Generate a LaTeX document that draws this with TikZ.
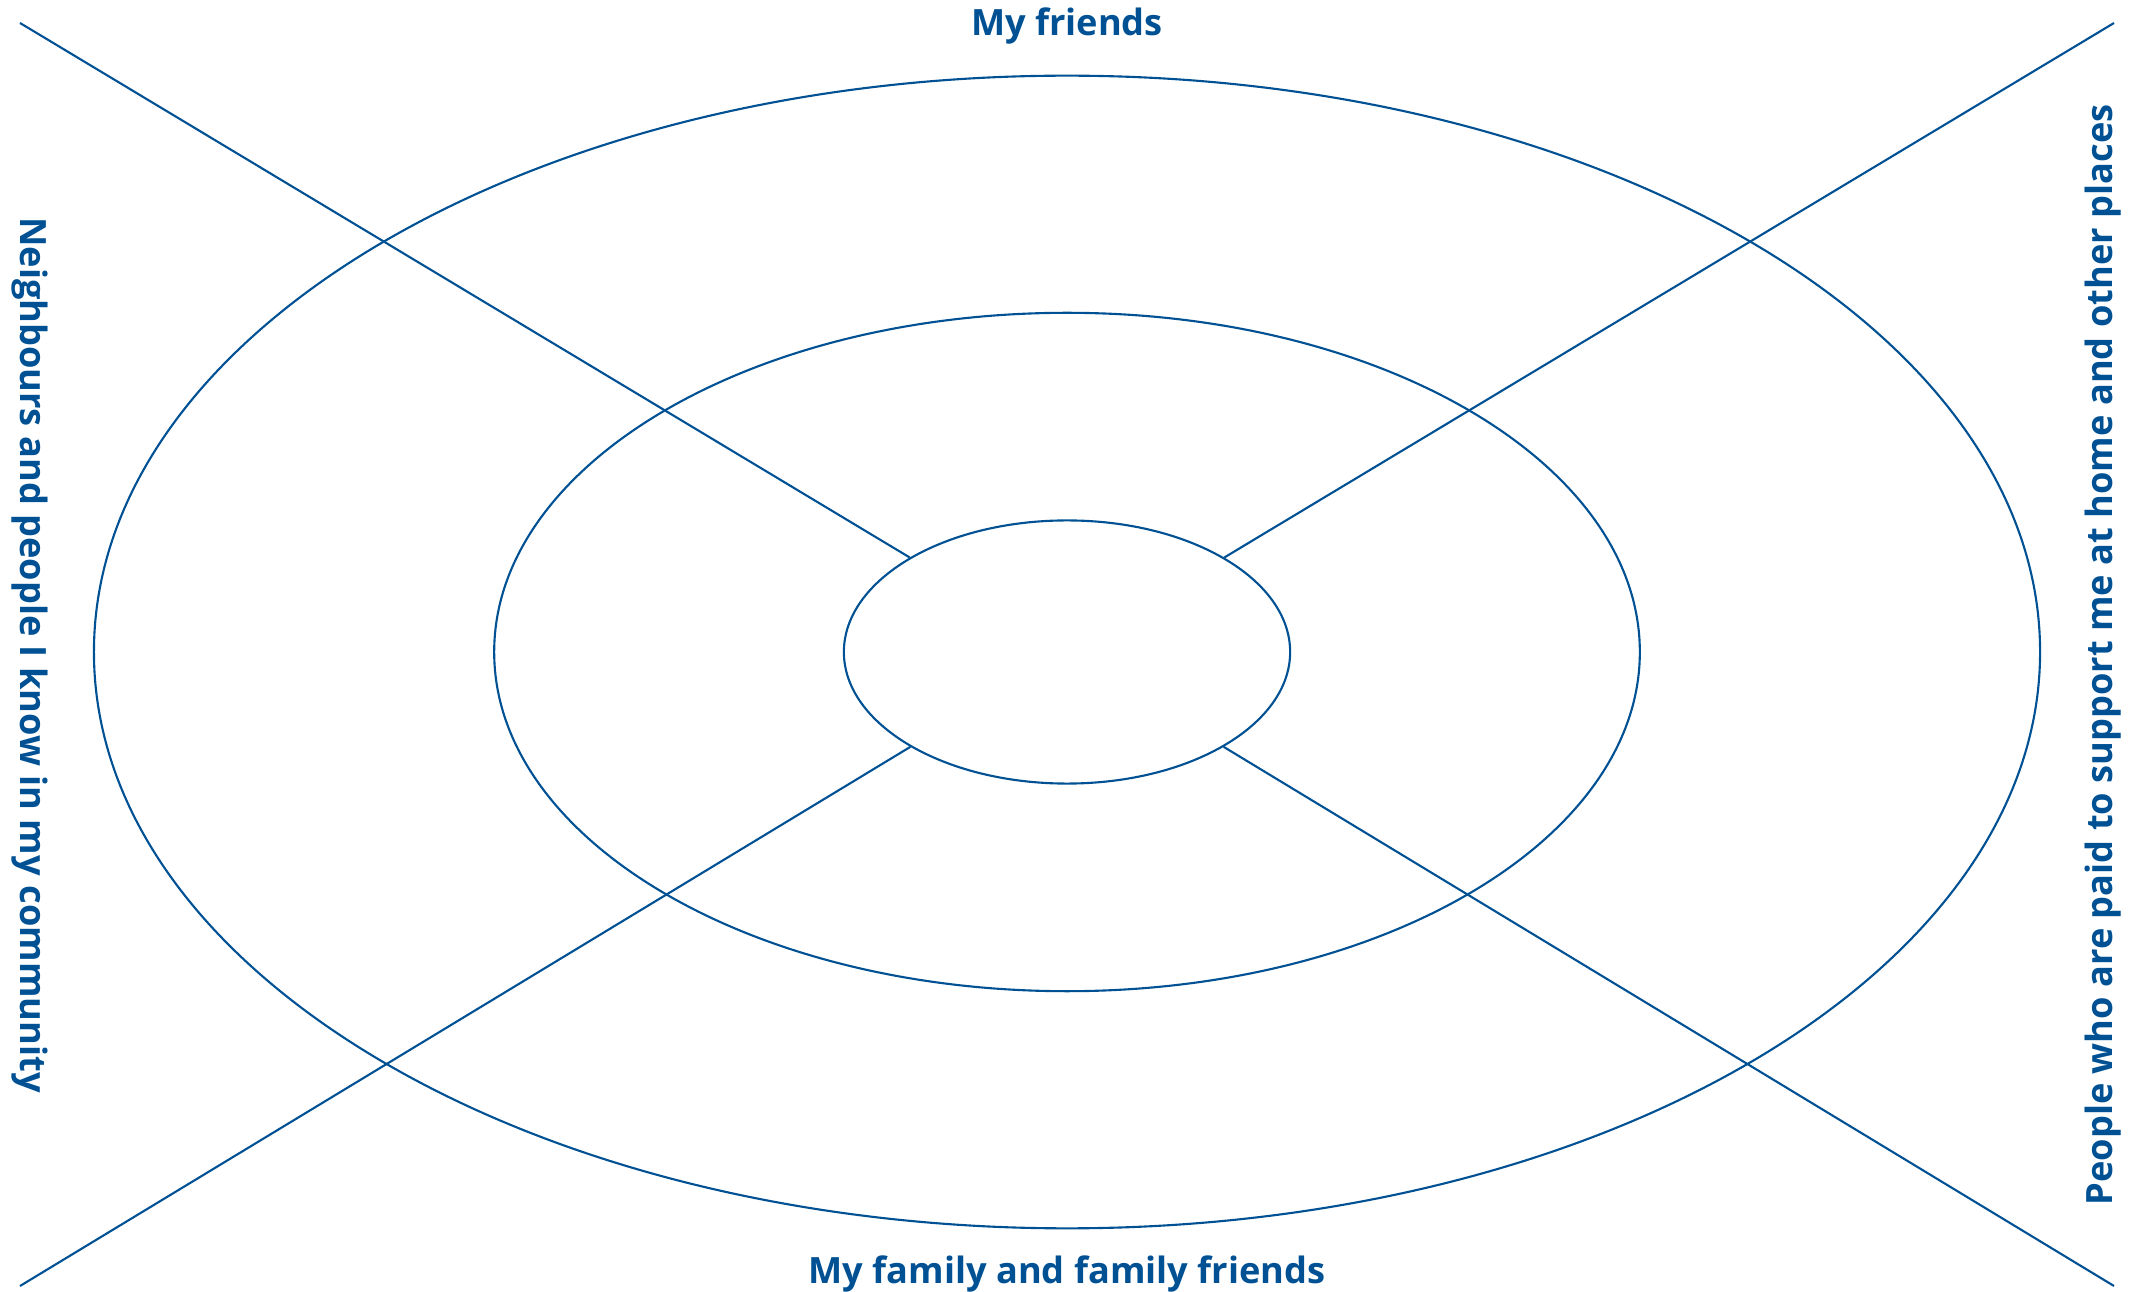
\documentclass[tikz,border=0pt]{standalone}
\usepackage{fontspec}
\setmainfont{Open Sans}
\usepackage{tikz}
\usetikzlibrary{shapes.geometric, positioning}
\definecolor{ringblue}{RGB}{0,81,148}
\tikzstyle{ring} = [ellipse, draw=ringblue, line width=0.6pt, inner sep=0pt]
\tikzstyle{spoke} = [draw=ringblue, line width=0.6pt]
\tikzstyle{ringtext} = [text=ringblue, font=\bfseries\fontsize{10.3}{12}\selectfont, inner sep=0pt]

\begin{document}
\begin{tikzpicture}[x=0.01cm, y=-0.01cm]
    \useasboundingbox (0,0) rectangle (2140,1292);
    % Rings
    \node (outer) [ring, minimum width=19.45cm, minimum height=11.52cm] at (1067,652) {};
    \node (middle) [ring, minimum width=11.45cm, minimum height=6.78cm] at (1067,652) {};
    \node (core) [ring, minimum width=4.46cm, minimum height=2.63cm] at (1067,652) {};

    % Corners
    \coordinate (nw) at (20,23);
    \coordinate (ne) at (2114,23);
    \coordinate (sw) at (20,1286);
    \coordinate (se) at (2114,1286);

    % Spokes
    \draw [spoke] (nw) -- (core);
    \draw [spoke] (ne) -- (core);
    \draw [spoke] (sw) -- (core);
    \draw [spoke] (se) -- (core);

    % Labels
    \node (friends) [ringtext] at (1067,26) {My friends};
    \node (family) [ringtext] at (1067,1274) {My family and family friends};
    \node (community) [ringtext, rotate=-90] at (30,655) {Neighbours and people I know in my community};
    \node (paid) [ringtext, rotate=90] at (2103,655) {People who are paid to support me at home and other places};
\end{tikzpicture}
\end{document}
